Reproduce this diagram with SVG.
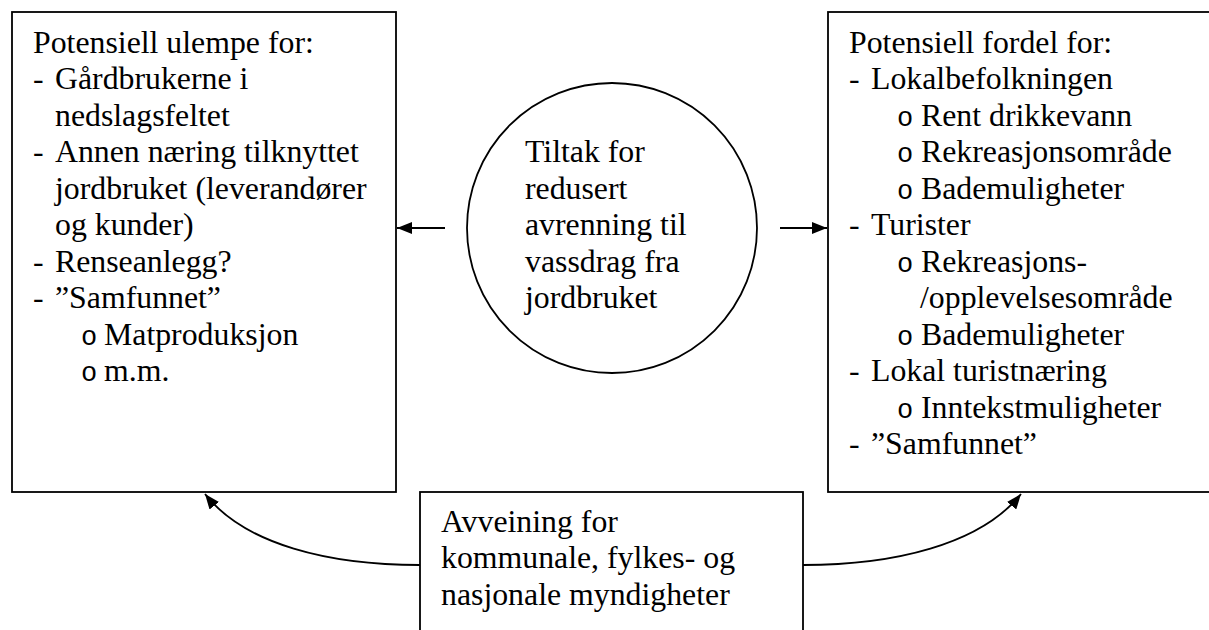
<svg xmlns="http://www.w3.org/2000/svg" width="1209" height="630" viewBox="0 0 1209 630">
<style>
.t{font-family:'Liberation Serif','Times New Roman',Tinos,serif;font-size:31.8px;fill:#000}
.b{font-family:'Liberation Mono','Courier New',Cousine,monospace;font-size:27px}
.box{fill:#fff;stroke:#000;stroke-width:1.8}
.con{fill:none;stroke:#000;stroke-width:1.8}
</style>
<defs>
<marker id="ah" viewBox="0 0 15 12" refX="15" refY="6" markerWidth="15" markerHeight="12" markerUnits="userSpaceOnUse" orient="auto">
<path d="M0,0 L15,6 L0,12 z" fill="#000"/>
</marker>
</defs>
<rect width="1209" height="630" fill="#fff"/>
<g id="left-box" class="t">
<rect class="box" x="12" y="12" width="384" height="480"/>
<text x="33" y="52.5">Potensiell ulempe for:</text>
<text x="33" y="89">-</text><text x="55" y="89">Gårdbrukerne i</text>
<text x="55" y="125.5">nedslagsfeltet</text>
<text x="33" y="162">-</text><text x="55" y="162">Annen næring tilknyttet</text>
<text x="55" y="198.5">jordbruket (leverandører</text>
<text x="55" y="235">og kunder)</text>
<text x="33" y="271.5">-</text><text x="55" y="271.5">Renseanlegg?</text>
<text x="33" y="308">-</text><text x="55" y="308">”Samfunnet”</text>
<text class="b" x="81" y="344.5">o</text><text x="104" y="344.5">Matproduksjon</text>
<text class="b" x="81" y="381">o</text><text x="104" y="381">m.m.</text>
</g>
<g id="center-node" class="t">
<circle class="box" cx="612" cy="228" r="145"/>
<text x="525" y="162">Tiltak for</text>
<text x="525" y="198.5">redusert</text>
<text x="525" y="235">avrenning til</text>
<text x="525" y="271.5">vassdrag fra</text>
<text x="525" y="308">jordbruket</text>
</g>
<g id="right-box" class="t">
<rect class="box" x="828" y="12" width="420" height="480"/>
<text x="849" y="52.5">Potensiell fordel for:</text>
<text x="849" y="89">-</text><text x="871" y="89">Lokalbefolkningen</text>
<text class="b" x="897" y="125.5">o</text><text x="921" y="125.5">Rent drikkevann</text>
<text class="b" x="897" y="162">o</text><text x="921" y="162">Rekreasjonsområde</text>
<text class="b" x="897" y="198.5">o</text><text x="921" y="198.5">Bademuligheter</text>
<text x="849" y="235">-</text><text x="871" y="235">Turister</text>
<text class="b" x="897" y="271.5">o</text><text x="921" y="271.5">Rekreasjons-</text>
<text x="920" y="308">/opplevelsesområde</text>
<text class="b" x="897" y="344.5">o</text><text x="921" y="344.5">Bademuligheter</text>
<text x="849" y="381">-</text><text x="871" y="381">Lokal turistnæring</text>
<text class="b" x="897" y="417.5">o</text><text x="921" y="417.5">Inntekstmuligheter</text>
<text x="849" y="454">-</text><text x="871" y="454">”Samfunnet”</text>
</g>
<g id="bottom-box" class="t">
<rect class="box" x="420" y="492" width="383" height="200"/>
<text x="441" y="531.5">Avveining for</text>
<text x="441" y="568">kommunale, fylkes- og</text>
<text x="441" y="604.5">nasjonale myndigheter</text>
</g>
<g id="connectors">
<path class="con" d="M445,228 L397,228" marker-end="url(#ah)"/>
<path class="con" d="M780,228 L827,228" marker-end="url(#ah)"/>
<path class="con" d="M420,565 C330,565 245,545 205,494" marker-end="url(#ah)"/>
<path class="con" d="M803,565 C893,565 980,545 1021,494" marker-end="url(#ah)"/>
</g>
</svg>
